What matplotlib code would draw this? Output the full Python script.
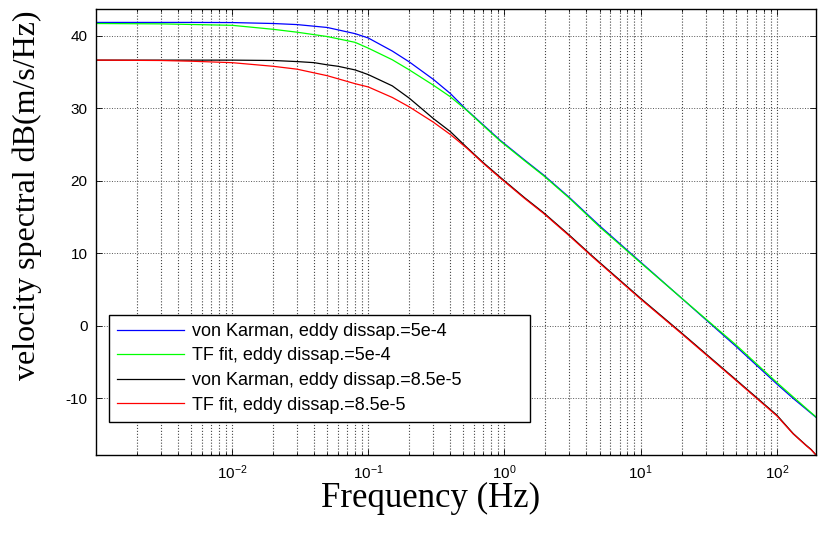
import matplotlib
matplotlib.use("Agg")
import matplotlib.pyplot as plt
from matplotlib.ticker import LogLocator, NullFormatter, FixedLocator

plt.rcParams['axes.unicode_minus'] = False
plt.rcParams['mathtext.fontset'] = 'custom'
plt.rcParams['mathtext.rm'] = 'Liberation Sans'
plt.rcParams['font.family'] = 'Liberation Sans'

# ---- data ----
f_vk1 = [0.001, 0.005, 0.01, 0.02, 0.03, 0.05, 0.08, 0.1, 0.15, 0.2, 0.3, 0.4, 0.53, 0.7, 0.93,
         1.4, 1.94, 3, 5, 10, 19.5, 50, 100, 132, 194]
db_vk1 = [41.85, 41.85, 41.83, 41.7, 41.55, 41.15, 40.3, 39.7, 37.9, 36.4, 34.0, 32.05, 29.75, 27.7, 25.6,
          22.9, 20.8, 17.7, 13.8, 8.8, 4.0, -2.8, -8.0, -10.0, -12.6]

f_tf1 = [0.001, 0.003, 0.01, 0.02, 0.03, 0.05, 0.08, 0.1, 0.15, 0.2, 0.3, 0.4, 0.53, 0.7, 0.93,
         1.4, 1.94, 3, 5, 10, 19.5, 50, 100, 132, 194]
db_tf1 = [41.7, 41.65, 41.45, 40.9, 40.5, 39.9, 39.1, 38.3, 36.7, 35.3, 33.2, 31.6, 29.7, 27.6, 25.5,
          22.8, 20.7, 17.6, 13.65, 8.7, 4.0, -2.6, -7.8, -9.8, -12.55]

f_vk2 = [0.001, 0.01, 0.02, 0.03, 0.04, 0.05, 0.06, 0.08, 0.1, 0.15, 0.2, 0.3, 0.4, 0.53, 0.7, 0.93,
         1.4, 1.94, 3, 4.5, 10, 19.5, 50, 100, 132, 164, 179, 194]
db_vk2 = [36.65, 36.65, 36.6, 36.45, 36.3, 36.0, 35.8, 35.3, 34.65, 33.1, 31.4, 28.6, 26.8, 24.6, 22.5, 20.5,
          17.7, 15.6, 12.5, 9.5, 3.8, -0.8, -7.4, -12.3, -14.85, -16.45, -17.05, -17.8]

f_tf2 = [0.001, 0.003, 0.005, 0.01, 0.02, 0.03, 0.05, 0.08, 0.1, 0.15, 0.2, 0.3, 0.4, 0.53, 0.7, 0.93,
         1.4, 1.94, 3, 4.5, 10, 19.5, 50, 100, 132, 164, 179, 194]
db_tf2 = [36.65, 36.6, 36.5, 36.3, 35.8, 35.4, 34.5, 33.4, 32.95, 31.5, 30.2, 28.1, 26.4, 24.5, 22.4, 20.4,
          17.6, 15.5, 12.4, 9.4, 3.7, -0.9, -7.5, -12.4, -14.9, -16.5, -17.1, -17.8]

labels = ['von Karman, eddy dissap.=5e-4', 'TF fit, eddy dissap.=5e-4',
          'von Karman, eddy dissap.=8.5e-5', 'TF fit, eddy dissap.=8.5e-5']
colors = ['#0000ff', '#00ff00', '#000000', '#ff0000']

xticks = [0.01, 0.1, 1, 10, 100]
xticklabels = [r'$\mathregular{10^{-2}}$', r'$\mathregular{10^{-1}}$', r'$\mathregular{10^{0}}$',
               r'$\mathregular{10^{1}}$', r'$\mathregular{10^{2}}$']
yticks = [-10, 0, 10, 20, 30, 40]

fig = plt.figure(figsize=(8.21, 5.37), dpi=100)
ax = fig.add_axes([96/821, 82/537, 720/821, 446/537])

series = [(f_vk1, db_vk1), (f_tf1, db_tf1), (f_vk2, db_vk2), (f_tf2, db_tf2)]
for (f, d), c, lab in zip(series, colors, labels):
    ax.plot(f, d, color=c, lw=0.9, label=lab)

ax.set_xscale('log')
ax.set_xlim(0.001, 194)
ax.set_ylim(-17.8, 43.7)
ax.xaxis.set_major_locator(FixedLocator(xticks))
ax.set_xticklabels(xticklabels)
ax.xaxis.set_minor_locator(LogLocator(base=10, subs=range(2, 10), numticks=20))
ax.xaxis.set_minor_formatter(NullFormatter())
ax.set_yticks(yticks)
ax.set_yticklabels([str(v) for v in yticks])

ax.tick_params(which='both', direction='in', top=True, right=True, labelsize=11, width=0.6)
ax.tick_params(which='major', length=4)
ax.tick_params(which='minor', length=2.5)
ax.tick_params(axis='x', pad=6)
ax.tick_params(axis='y', pad=6)

ax.grid(True, which='major', axis='y', linestyle=':', color='#555555', lw=0.7)
ax.grid(True, which='both', axis='x', linestyle=':', color='#444444', lw=0.8)
for s in ax.spines.values():
    s.set_linewidth(1.0)

ax.set_xlabel('Frequency (Hz)', fontsize=25, family='Liberation Serif')
ax.xaxis.set_label_coords(0.464, -0.06, transform=ax.transAxes)
ax.xaxis.label.set_va('top')
ax.set_ylabel('velocity spectral dB(m/s/Hz)', fontsize=23, family='Liberation Serif')
ax.yaxis.set_label_coords(-0.075, 0.583, transform=ax.transAxes)

leg = ax.legend(loc='lower left', bbox_to_anchor=(13/720, 33.3/446, 421/720, 104/446),
                mode='expand', borderaxespad=0,
                fontsize=13, frameon=True, fancybox=False, framealpha=1, edgecolor='black',
                handlelength=3.7, handletextpad=0.45, labelspacing=0.42, borderpad=0.45)
leg.get_frame().set_linewidth(1.0)
for h in leg.get_lines():
    h.set_linewidth(0.9)

fig.savefig('out.png', dpi=100)
